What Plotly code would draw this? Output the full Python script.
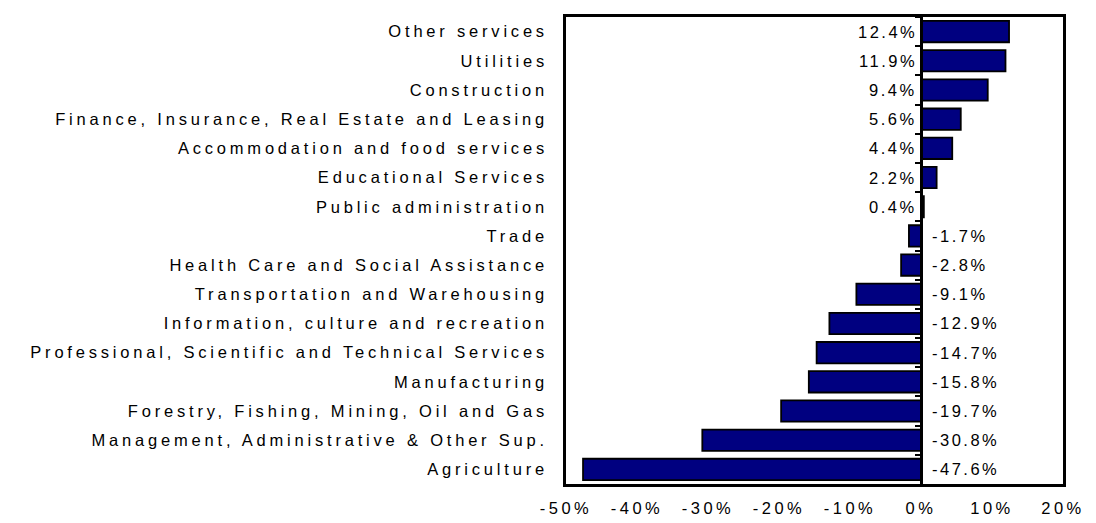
import plotly.graph_objects as go

categories = [
    "Other services",
    "Utilities",
    "Construction",
    "Finance, Insurance, Real Estate and Leasing",
    "Accommodation and food services",
    "Educational Services",
    "Public administration",
    "Trade",
    "Health Care and Social Assistance",
    "Transportation and Warehousing",
    "Information, culture and recreation",
    "Professional, Scientific and Technical Services",
    "Manufacturing",
    "Forestry, Fishing, Mining, Oil and Gas",
    "Management, Administrative & Other Sup.",
    "Agriculture",
]
values = [12.4, 11.9, 9.4, 5.6, 4.4, 2.2, 0.4, -1.7, -2.8, -9.1, -12.9, -14.7, -15.8, -19.7, -30.8, -47.6]
x_ticks = [-50, -40, -30, -20, -10, 0, 10, 20]
x_tick_labels = ["-50%", "-40%", "-30%", "-20%", "-10%", "0%", "10%", "20%"]

FONT = "Liberation Sans, Arial, sans-serif"
FS = 16.5


def spaced(s, px):
    return f'<span style="letter-spacing:{px}px">{s}</span>'


labels = [f"{v:.1f}%" if v >= 0 else f"-{abs(v):.1f}%" for v in values]

fig = go.Figure()
fig.add_trace(go.Bar(
    x=values, y=categories, orientation="h",
    marker=dict(color="#000080", line=dict(color="black", width=1.8)),
    hoverinfo="skip", showlegend=False,
))
# invisible trace carrying the zero-axis (category boundary ticks)
fig.add_trace(go.Bar(
    x=[0 for _ in values], y=categories, orientation="h", yaxis="y2",
    marker=dict(color="rgba(0,0,0,0)"), hoverinfo="skip", showlegend=False,
))

for cat, v, lab in zip(categories, values, labels):
    fig.add_annotation(
        x=0, y=cat, xref="x", yref="y", text=spaced(lab, 2.5), showarrow=False,
        xanchor="right" if v >= 0 else "left",
        xshift=-2 if v >= 0 else 9,
        font=dict(family=FONT, size=FS, color="black"),
    )

xmin, xmax = -50, 20
# page body has an 8px margin: figure size/margins compensate for it
fig.update_layout(
    width=1088, height=515,
    margin=dict(l=558, r=33, t=6, b=32),
    paper_bgcolor="white", plot_bgcolor="white",
    bargap=0.27,
    xaxis=dict(
        range=[xmin, xmax], tickvals=x_ticks,
        ticktext=[spaced(t, 3.5) for t in x_tick_labels],
        showgrid=False, zeroline=False,
        showline=True, mirror=True, linecolor="black", linewidth=2.5,
        ticks="outside", ticklen=7, tickcolor="rgba(0,0,0,0)",
        tickfont=dict(family=FONT, size=FS, color="black"),
    ),
    yaxis=dict(
        autorange="reversed", showgrid=False, zeroline=False,
        showline=True, mirror=True, linecolor="black", linewidth=2.5,
        tickmode="array", tickvals=categories,
        ticktext=[spaced(c, 3.8) for c in categories],
        ticks="outside", ticklen=12, tickcolor="rgba(0,0,0,0)",
        tickfont=dict(family=FONT, size=FS, color="black"),
    ),
    yaxis2=dict(
        overlaying="y", matches="y", anchor="free",
        position=(0 - xmin) / (xmax - xmin),
        showticklabels=False, showgrid=False, zeroline=False,
        showline=True, linecolor="black", linewidth=2.5,
        ticks="outside", ticklen=5, tickwidth=2, tickcolor="black",
        tickson="boundaries",
    ),
)

fig.write_html("out.html")
